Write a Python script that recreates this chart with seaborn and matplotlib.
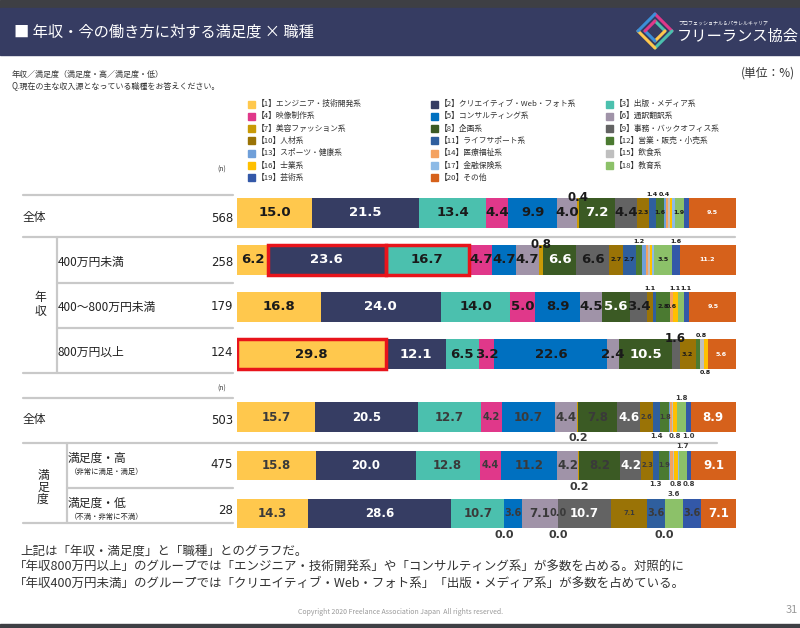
import numpy as np
import pandas as pd
import matplotlib.pyplot as plt
import seaborn as sns
from matplotlib.patches import Rectangle

sns.set_theme(style='white')
plt.rcParams['font.family'] = ['Noto Sans CJK JP', 'DejaVu Sans']

jobs = ['【1】エンジニア・技術開発系', '【2】クリエイティブ・Web・フォト系', '【3】出版・メディア系',
        '【4】映像制作系', '【5】コンサルティング系', '【6】通訳翻訳系',
        '【7】美容ファッション系', '【8】企画系', '【9】事務・バックオフィス系',
        '【10】人材系', '【11】ライフサポート系', '【12】営業・販売・小売系',
        '【13】スポーツ・健康系', '【14】医療福祉系', '【15】飲食系',
        '【16】士業系', '【17】金融保険系', '【18】教育系',
        '【19】芸術系', '【20】その他']
colors = ['#FFC84D', '#363D63', '#4BC0AE', '#E0388A', '#0070C0', '#A093A8',
          '#C99A06', '#3B5A24', '#636363', '#9A7306', '#2F5F9E', '#4B7A31',
          '#6F9FD9', '#F4A261', '#BFBFBF', '#FFC000', '#8DBAE6', '#8CC169',
          '#3358A8', '#D6611B']

# 年収
income_rows = ['全体', '400万円未満', '400～800万円未満', '800万円以上']
income_n = [568, 258, 179, 124]
income_all = [15.0, 21.5, 13.4, 4.4, 9.9, 4.0, 0.4, 7.2, 4.4, 2.3, 1.4, 1.6, 0.4, 0.4, 0.4, 0.5, 0.5, 1.9, 0.9, 9.5]
income_low = [6.2, 23.6, 16.7, 4.7, 4.7, 4.7, 0.8, 6.6, 6.6, 2.7, 2.7, 1.2, 0.8, 0.4, 0.4, 0.4, 0.4, 3.5, 1.6, 11.2]
income_mid = [16.8, 24.0, 14.0, 5.0, 8.9, 4.5, 0.0, 5.6, 3.4, 1.1, 0.6, 2.8, 0.0, 0.6, 0.0, 1.1, 0.0, 1.1, 1.1, 9.5]
income_high = [29.8, 12.1, 6.5, 3.2, 22.6, 2.4, 0.0, 10.5, 1.6, 3.2, 0.0, 0.8, 0.0, 0.0, 0.8, 0.8, 0.0, 0.0, 0.0, 5.6]

# 満足度
sat_rows = ['全体', '満足度・高', '満足度・低']
sat_n = [503, 475, 28]
sat_all = [15.7, 20.5, 12.7, 4.2, 10.7, 4.4, 0.2, 7.8, 4.6, 2.6, 1.4, 1.8, 0.2, 0.4, 0.2, 0.8, 0.0, 1.8, 1.0, 8.9]
sat_high = [15.8, 20.0, 12.8, 4.4, 11.2, 4.2, 0.2, 8.2, 4.2, 2.3, 1.3, 1.9, 0.2, 0.6, 0.2, 0.8, 0.2, 1.7, 0.8, 9.1]
sat_low = [14.3, 28.6, 10.7, 0.0, 3.6, 7.1, 0.0, 0.0, 10.7, 7.1, 3.6, 0.0, 0.0, 0.0, 0.0, 0.0, 0.0, 3.6, 3.6, 7.1]

# label style per segment: L big inside, m medium, s small inside, A/a above, B/b below, . none
income_modes = ['LLLLLLALLsasa....s.s', 'LLLLLLALLssa.....sas',
                'LLLLLL.LLa.s.s.a..as', 'LLLLLL.LAs....ab...s']
sat_modes = ['LLLmLLBLLsbs...b.abL', 'LLLmLLBLLsbs...b.abL',
             'LLLBmLmBLsmB.....amL']
income_red = [(1, 1), (1, 2), (3, 0)]


def long_df(rows, series):
    recs = []
    for r, vals in zip(rows, series):
        cum = np.cumsum(vals)
        for j, v in enumerate(vals):
            recs.append({'row': r, 'job': jobs[j], 'value': v, 'cum': cum[j], 'left': cum[j] - v})
    return pd.DataFrame(recs)


def draw_group(ax, rows, series, modes, white, dark, sizes, bw, red=()):
    df = long_df(rows, series)
    # stacked look: draw cumulative totals from the last job to the first
    for j in range(len(jobs) - 1, -1, -1):
        sub = df[df['job'] == jobs[j]]
        sns.barplot(data=sub, x='cum', y='row', order=rows, color=colors[j], orient='h',
                    width=bw, saturation=1, linewidth=0, errorbar=None, ax=ax)
    for i, r in enumerate(rows):
        sub = df[df['row'] == r].reset_index(drop=True)
        for j in range(len(jobs)):
            m = modes[i][j]
            if m == '.':
                continue
            v = sub.loc[j, 'value']
            x = sub.loc[j, 'left'] + v / 2
            y = i
            col = dark
            if m in 'Aa':
                y = i - bw / 2 - (0.03 if m == 'A' else 0.09)
            elif m in 'Bb':
                y = i + bw / 2 + (0.14 if m == 'B' else 0.08)
            elif j in white:
                col = 'white'
            ax.text(x, y, f'{v:.1f}', ha='center', va='center', fontsize=sizes[m],
                    fontweight='bold', color=col, family='DejaVu Sans', zorder=5)
    for i, j in red:
        v = df[(df['row'] == rows[i])].reset_index(drop=True)
        ax.barh(i, v.loc[j, 'value'], left=v.loc[j, 'left'], height=bw, fill=False,
                edgecolor='#E8141B', linewidth=2.5, zorder=4)
    ax.set_xlim(0, 100)
    ax.set_ylim(len(rows) - 0.5, -0.5)
    ax.axis('off')


fig = plt.figure(figsize=(8, 6.28), dpi=100)
bg = fig.add_axes([0, 0, 1, 1])
bg.set_xlim(0, 800)
bg.set_ylim(628, 0)
bg.axis('off')

# header
bg.add_patch(Rectangle((0, 0), 800, 8, color='#3E3F44'))
bg.add_patch(Rectangle((0, 8), 800, 47, color='#363C62'))
bg.add_patch(Rectangle((0, 624), 800, 4, color='#3E3F44'))
bg.text(14, 32, '■ 年収・今の働き方に対する満足度 × 職種', color='white', fontsize=11, va='center')
cx, cy = 655, 31
for d, cs in [(17, ['#E0388A', '#4BC0AE', '#FFC84D', '#3B8FD9']), (10, ['#4BC0AE', '#FFC84D', '#3B8FD9', '#E0388A'])]:
    pts = [(cx, cy - d), (cx + d, cy), (cx, cy + d), (cx - d, cy), (cx, cy - d)]
    for k in range(4):
        bg.plot([pts[k][0], pts[k + 1][0]], [pts[k][1], pts[k + 1][1]], color=cs[k], lw=2.2)
bg.text(678, 23, 'プロフェッショナル＆パラレルキャリア', color='white', fontsize=3.6, va='center')
bg.text(677, 36, 'フリーランス協会', color='white', fontsize=11, va='center')

bg.text(12, 74, '年収／満足度（満足度・高／満足度・低）', fontsize=5.8, color='#333333', va='center')
bg.text(12, 86, 'Q.現在の主な収入源となっている職種をお答えください。', fontsize=5.8, color='#333333', va='center')
bg.text(795, 73, '(単位：%)', fontsize=8.5, color='#333333', va='center', ha='right')

# legend
for k, name in enumerate(jobs):
    lx = [251, 434, 609][k % 3]
    ly = 104 + (k // 3) * 12.3
    bg.add_patch(Rectangle((lx - 3.5, ly - 3.5), 7, 7, color=colors[k]))
    bg.text(lx + 6, ly, name, fontsize=5.6, color='#333333', va='center')

# left table
line_c = '#C9C9C9'
for y, x0, x1 in [(195, 23, 233), (237, 23, 735), (283, 57, 233), (328, 57, 233), (373, 23, 233),
                  (398, 23, 233), (443, 23, 717), (488, 67, 233), (523, 23, 233)]:
    bg.plot([x0, x1], [y, y], color=line_c, lw=1.6)
bg.plot([57, 57], [237, 373], color=line_c, lw=1.6)
bg.plot([67, 67], [443, 523], color=line_c, lw=1.6)

bg.text(222, 170, '(n)', fontsize=5, color='#333333', ha='center', va='center')
bg.text(222, 389, '(n)', fontsize=5, color='#333333', ha='center', va='center')

tfs = 8.5
tc = '#222222'
bg.text(23, 218, income_rows[0], fontsize=tfs, color=tc, va='center')
for r, y in zip(income_rows[1:], [262, 307, 352]):
    bg.text(58, y, r, fontsize=tfs, color=tc, va='center')
for n, y in zip(income_n, [218, 262, 307, 352]):
    bg.text(233, y, str(n), fontsize=tfs, color=tc, va='center', ha='right', family='DejaVu Sans')
bg.text(40, 298, '年', fontsize=tfs, color=tc, va='center', ha='center')
bg.text(40, 311, '収', fontsize=tfs, color=tc, va='center', ha='center')

bg.text(23, 420, sat_rows[0], fontsize=tfs, color=tc, va='center')
bg.text(68, 458, sat_rows[1], fontsize=tfs, color=tc, va='center')
bg.text(70, 472, '（非常に満足・満足）', fontsize=5.3, color=tc, va='center')
bg.text(68, 503, sat_rows[2], fontsize=tfs, color=tc, va='center')
bg.text(70, 517, '（不満・非常に不満）', fontsize=5.3, color=tc, va='center')
for n, y in zip(sat_n, [420, 465, 510]):
    bg.text(233, y, str(n), fontsize=tfs, color=tc, va='center', ha='right', family='DejaVu Sans')
for ch, y in zip('満足度', [475, 487, 499]):
    bg.text(43, y, ch, fontsize=tfs, color=tc, va='center', ha='center')

# bars
ax1 = fig.add_axes([237 / 800, 1 - 377.5 / 628, 499 / 800, 188 / 628])
draw_group(ax1, income_rows, [income_all, income_low, income_mid, income_high], income_modes,
           white={1, 7, 19}, dark='#1A1A1A',
           sizes={'L': 9.5, 'm': 7, 's': 4.6, 'A': 8.5, 'a': 4.6, 'B': 8.5, 'b': 4.6},
           bw=0.62, red=income_red)

ax2 = fig.add_axes([237 / 800, 1 - 537.6 / 628, 499 / 800, 144.7 / 628])
draw_group(ax2, sat_rows, [sat_all, sat_high, sat_low], sat_modes,
           white={1, 8, 19}, dark='#3A3A3A',
           sizes={'L': 8.5, 'm': 7, 's': 4.8, 'A': 8, 'a': 5, 'B': 8, 'b': 5},
           bw=0.61)

# comments
body = ['上記は「年収・満足度」と「職種」とのグラフだ。',
        '「年収800万円以上」のグループでは「エンジニア・技術開発系」や「コンサルティング系」が多数を占める。対照的に',
        '「年収400万円未満」のグループでは「クリエイティブ・Web・フォト系」「出版・メディア系」が多数を占めている。']
for k, line in enumerate(body):
    bg.text(20 if k == 0 else 14, 551 + k * 16, line, fontsize=9, color='#333333', va='center')
bg.text(400, 612, 'Copyright 2020 Freelance Association Japan  All rights reserved.',
        fontsize=5, color='#9A9A9A', ha='center', va='center')
bg.text(798, 610, '31', fontsize=8, color='#9A9A9A', ha='right', va='center')

fig.savefig('out.png', dpi=100)
